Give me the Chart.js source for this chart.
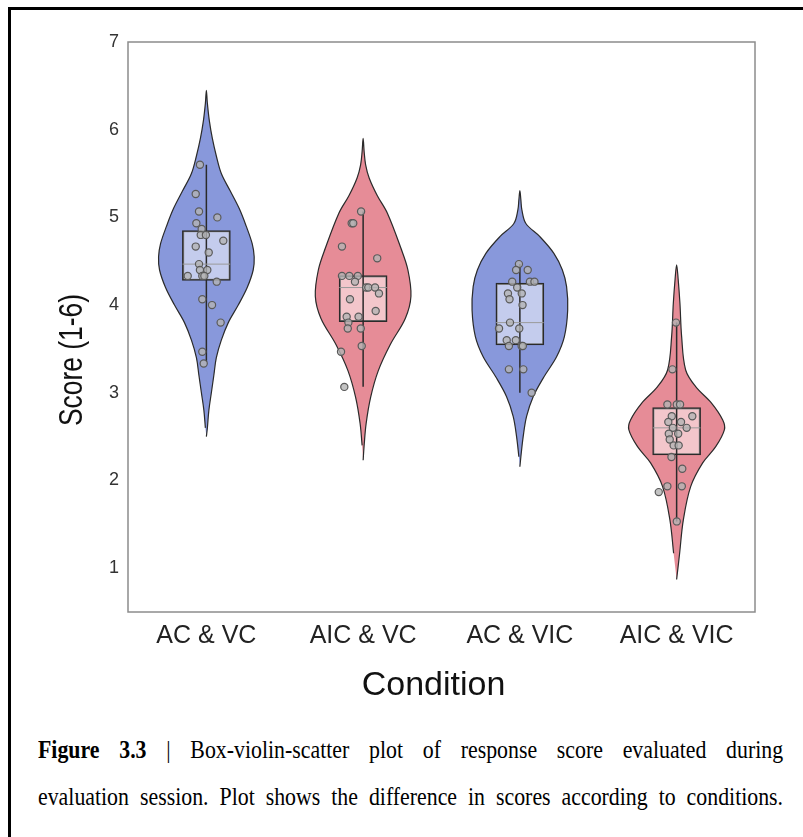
<!DOCTYPE html>
<html>
<head>
<meta charset="utf-8">
<script src="https://cdn.jsdelivr.net/npm/chart.js@4.4.1/dist/chart.umd.min.js"></script>
<style>
  html, body { margin: 0; padding: 0; background: #fff; overflow: hidden; width: 803px; height: 837px; }
  #frame { position: absolute; left: 8px; top: 7px; width: 900px; height: 900px; border-left: 3px solid #000; border-top: 3px solid #000; }
  #wrap { position: absolute; left: 0; top: 0; width: 803px; height: 720px; }
  .cap { position: absolute; left: 38px; width: 887px; transform: scaleX(0.84); transform-origin: 0 0; font-family: "Liberation Serif", "Times New Roman", serif; font-size: 26px; line-height: 30px; color: #000; text-align: justify; text-align-last: justify; }
</style>
</head>
<body>
<div id="frame"></div>
<div id="wrap"><canvas id="c" width="803" height="720"></canvas></div>
<div class="cap" style="top:735px;"><b>Figure 3.3</b> | Box-violin-scatter plot of response score evaluated during</div>
<div class="cap" style="top:782px;">evaluation session. Plot shows the difference in scores according to conditions.</div>
<script>
// ---------------- data ----------------
const CATEGORIES = ['AC & VC', 'AIC & VC', 'AC & VIC', 'AIC & VIC'];
const Y_TICKS = [1, 2, 3, 4, 5, 6, 7];
const X_TITLE = 'Condition';
const Y_TITLE = 'Score (1-6)';

// violin outlines: score levels and relative density (half-width) at each level
const VIOLIN_LEVELS_1 = [2.50, 2.6, 2.8, 3.0, 3.2, 3.4, 3.6, 3.8, 4.0, 4.2, 4.4, 4.55, 4.7, 4.9, 5.1, 5.3, 5.5, 5.7, 5.9, 6.1, 6.3, 6.45];
const VIOLIN_DENSITY_1 = [0, 1, 2.5, 5, 7.5, 10, 15, 22, 32, 41, 47, 48, 46, 40, 33, 24, 15, 10, 6, 3, 1, 0];
const VIOLIN_LEVELS_2 = [2.23, 2.4, 2.65, 2.95, 3.25, 3.55, 3.85, 4.1, 4.4, 4.65, 5.05, 5.25, 5.45, 5.6, 5.75, 5.9];
const VIOLIN_DENSITY_2 = [0, 1, 3, 7.5, 15, 27, 42, 47.5, 44.5, 37.5, 24, 14, 6, 2.5, 1, 0];
const VIOLIN_LEVELS_3 = [2.157, 2.27, 2.5, 2.73, 2.955, 3.18, 3.41, 3.64, 3.94, 4.21, 4.40, 4.59, 4.78, 4.93, 5.085, 5.2, 5.305];
const VIOLIN_DENSITY_3 = [0, 1, 3.3, 6.7, 13.3, 24, 36.7, 44.5, 47.8, 46.7, 42.5, 34, 20, 6, 2, 1, 0];
const VIOLIN_LEVELS_4 = [0.87, 1.17, 1.55, 1.93, 2.2, 2.385, 2.58, 2.69, 2.88, 3.07, 3.26, 3.64, 4.02, 4.3, 4.46];
const VIOLIN_DENSITY_4 = [0, 3, 6.7, 14, 26, 39, 47.7, 46, 35, 19, 9, 5, 3.3, 1.5, 0];

// individual scores and their horizontal jitter (in category units)
const SCORES_1 = [5.6, 5.267, 5.067, 5.0, 4.933, 4.867, 4.8, 4.8, 4.733, 4.667, 4.6, 4.467, 4.4, 4.4, 4.333, 4.333, 4.333, 4.267, 4.067, 4.0, 3.8, 3.467, 3.333];
const JITTER_1 = [-0.041, -0.068, -0.047, 0.070, -0.064, -0.030, -0.036, -0.003, 0.108, -0.068, 0.015, -0.047, -0.041, 0.006, -0.119, -0.026, -0.013, 0.066, -0.026, 0.036, 0.091, -0.026, -0.017];
const SCORES_2 = [5.067, 4.933, 4.933, 4.667, 4.533, 4.333, 4.333, 4.333, 4.267, 4.2, 4.2, 4.2, 4.133, 4.067, 3.933, 3.867, 3.867, 3.8, 3.733, 3.733, 3.533, 3.467, 3.067];
const JITTER_2 = [-0.013, -0.073, -0.063, -0.135, 0.090, -0.135, -0.088, -0.034, -0.052, 0.019, 0.033, 0.076, 0.101, -0.084, 0.080, -0.105, -0.029, -0.094, -0.098, -0.015, -0.009, -0.141, -0.120];
const SCORES_3 = [4.467, 4.4, 4.4, 4.267, 4.267, 4.267, 4.2, 4.133, 4.133, 4.067, 4.0, 3.8, 3.733, 3.733, 3.6, 3.6, 3.533, 3.533, 3.533, 3.267, 3.267, 3.0];
const JITTER_3 = [-0.006, -0.024, 0.050, -0.049, 0.064, 0.093, -0.017, -0.076, 0.012, -0.066, 0.017, -0.063, -0.133, -0.004, -0.084, -0.026, -0.070, 0.011, 0.019, -0.070, 0.022, 0.075];
const SCORES_4 = [3.8, 3.267, 2.867, 2.867, 2.867, 2.733, 2.733, 2.667, 2.667, 2.6, 2.6, 2.533, 2.533, 2.467, 2.4, 2.4, 2.267, 2.133, 1.933, 1.933, 1.867, 1.533];
const JITTER_4 = [-0.004, -0.027, -0.059, 0.001, 0.022, -0.031, 0.100, -0.053, 0.028, -0.024, 0.064, -0.050, 0.010, -0.044, -0.019, 0.013, -0.033, 0.036, -0.059, 0.033, -0.114, 0.001];

// box summaries
const BOX_Q1 = [4.28, 3.81, 3.545, 2.29];
const BOX_MEDIAN = [4.467, 4.2, 3.8, 2.6];
const BOX_Q3 = [4.85, 4.335, 4.25, 2.83];
const WHISKER_LOW = [3.35, 3.07, 3.0, 1.533];
const WHISKER_HIGH = [5.6, 5.067, 4.467, 3.8];

// ---------------- styles ----------------
const VIOLIN_COLORS = ['#8898db', '#e68c97', '#8898db', '#e68c97'];
const VIOLIN_HALF = 0.305;   // max half width in category units
const BOX_HALF = 0.152;      // half width of box in category units
const FONT = '"Liberation Sans", Arial, sans-serif';

const violinLevels = [VIOLIN_LEVELS_1, VIOLIN_LEVELS_2, VIOLIN_LEVELS_3, VIOLIN_LEVELS_4];
const violinDensity = [VIOLIN_DENSITY_1, VIOLIN_DENSITY_2, VIOLIN_DENSITY_3, VIOLIN_DENSITY_4];
const scores = [SCORES_1, SCORES_2, SCORES_3, SCORES_4];
const jitters = [JITTER_1, JITTER_2, JITTER_3, JITTER_4];

function violinOutline(ci, levels, dens) {
  const max = Math.max(...dens);
  const right = levels.map((v, i) => ({ x: ci + VIOLIN_HALF * dens[i] / max, y: v }));
  const left = levels.map((v, i) => ({ x: ci - VIOLIN_HALF * dens[i] / max, y: v }))
                     .slice(1, -1).reverse();
  return right.concat(left);
}

const datasets = [];
CATEGORIES.forEach((c, i) => {
  datasets.push({
    type: 'line',
    data: violinOutline(i + 1, violinLevels[i], violinDensity[i]),
    fill: 'shape',
    backgroundColor: VIOLIN_COLORS[i],
    borderColor: '#2a2a2a',
    borderWidth: 1.2,
    pointRadius: 0,
    tension: 0.35,
    order: 5
  });
});

datasets.push({
  type: 'bar',
  data: CATEGORIES.map((c, i) => ({ x: i + 1, y: [BOX_Q1[i], BOX_Q3[i]] })),
  backgroundColor: 'rgba(255,255,255,0.5)',
  borderColor: '#2a2a2a',
  borderWidth: 1.5,
  borderSkipped: false,
  barThickness: 48,
  order: 4
});

const whiskerData = [];
const medianData = [];
CATEGORIES.forEach((c, i) => {
  whiskerData.push({ x: i + 1, y: WHISKER_LOW[i] }, { x: i + 1, y: WHISKER_HIGH[i] }, { x: i + 1.5, y: null });
  medianData.push({ x: i + 1 - BOX_HALF, y: BOX_MEDIAN[i] }, { x: i + 1 + BOX_HALF, y: BOX_MEDIAN[i] }, { x: i + 1.5, y: null });
});
datasets.push({ type: 'line', data: whiskerData, borderColor: '#2a2a2a', borderWidth: 1.5, pointRadius: 0, spanGaps: false, fill: false, order: 3 });
datasets.push({ type: 'line', data: medianData, borderColor: '#9a9a9a', borderWidth: 1, pointRadius: 0, spanGaps: false, fill: false, order: 2 });

const pts = [];
CATEGORIES.forEach((c, i) => {
  scores[i].forEach((v, k) => pts.push({ x: i + 1 + jitters[i][k], y: v }));
});
datasets.push({
  type: 'scatter',
  data: pts,
  pointRadius: 3.6,
  pointBackgroundColor: 'rgba(180,180,180,0.8)',
  pointBorderColor: '#5a5a5a',
  pointBorderWidth: 1.2,
  order: 1
});

const framePlugin = {
  id: 'frame',
  beforeDatasetsDraw(chart) {
    const { ctx, chartArea: a } = chart;
    ctx.save();
    ctx.strokeStyle = '#8c8c8c';
    ctx.lineWidth = 1.5;
    ctx.strokeRect(a.left, a.top, a.right - a.left, a.bottom - a.top);
    ctx.restore();
  }
};

// axis titles (placed like the original figure: slightly off-centre)
const titlePlugin = {
  id: 'axisTitles',
  afterDraw(chart) {
    const { ctx, chartArea: a } = chart;
    ctx.save();
    ctx.fillStyle = '#111';
    ctx.textAlign = 'center';
    ctx.textBaseline = 'middle';
    ctx.font = '34px ' + FONT;
    ctx.fillText(X_TITLE, (a.left + a.right) / 2 - 8, a.bottom + 74);
    ctx.translate(a.left - 55, (a.top + a.bottom) / 2 + 33);
    ctx.rotate(-Math.PI / 2);
    ctx.scale(0.8, 1);
    ctx.font = '33px ' + FONT;
    ctx.fillText(Y_TITLE, 0, 0);
    ctx.restore();
  }
};

new Chart(document.getElementById('c'), {
  type: 'scatter',
  data: { datasets },
  plugins: [framePlugin, titlePlugin],
  options: {
    responsive: false,
    animation: false,
    events: [],
    layout: { padding: { left: 0, right: 48, top: 42, bottom: 0 } },
    plugins: { legend: { display: false }, tooltip: { enabled: false } },
    scales: {
      x: {
        type: 'linear', min: 0.5, max: 4.5, offset: false,
        afterBuildTicks: s => { s.ticks = CATEGORIES.map((c, i) => ({ value: i + 1 })); },
        afterFit: s => { s.height = 108; },
        grid: { display: false, drawTicks: false, offset: false },
        border: { display: false },
        ticks: { callback: (v, idx) => CATEGORIES[idx], font: { family: FONT, size: 25 }, color: '#222', padding: 9, maxRotation: 0, autoSkip: false },
        title: { display: false }
      },
      y: {
        type: 'linear', min: 0.5, max: 7,
        afterBuildTicks: s => { s.ticks = Y_TICKS.map(v => ({ value: v })); },
        afterFit: s => { s.width = 128; },
        grid: { display: false, drawTicks: false },
        border: { display: false },
        ticks: { font: { family: FONT, size: 18 }, color: '#333', padding: 9 },
        title: { display: false }
      }
    }
  }
});
</script>
</body>
</html>
